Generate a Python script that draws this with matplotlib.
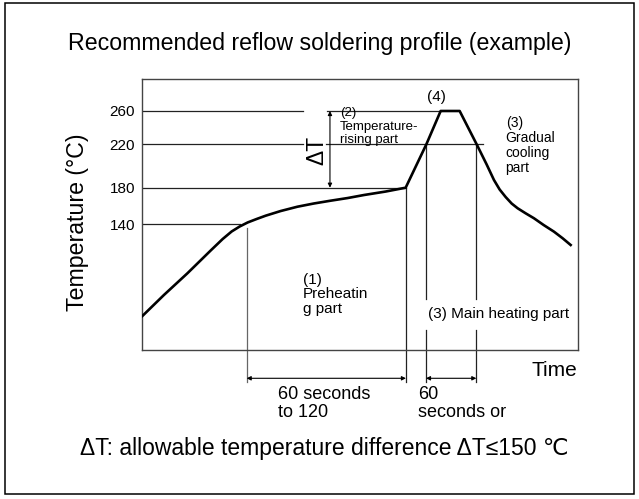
import numpy as np
import matplotlib
matplotlib.use("Agg")
import matplotlib.pyplot as plt
from matplotlib.patches import Rectangle
from matplotlib.transforms import blended_transform_factory

plt.rcParams['font.family'] = ['Liberation Sans', 'DejaVu Sans']

# ---- profile curve (time in arbitrary units, temperature in °C) ----
time_pts = [0.7, 22.3, 45.7, 69, 81, 90, 98, 106, 115, 124, 139, 155.7, 172, 189,
            206, 222.3, 244, 264,
            284.7, 299, 318,
            335, 345, 352.3, 358, 364, 370, 376, 384, 392.3, 402, 412.3, 421, 429]
temp_pts = [40.3, 63.2, 86.7, 111.5, 124, 132.2, 137.6, 142, 145.8, 149.4, 154.5, 159.2, 162.7, 165.8,
            168.7, 172, 175.8, 180,
            220, 260, 260,
            220, 201.4, 187.1, 178, 169.8, 162.7, 157.5, 152, 146.6, 139.2, 132, 124.8, 117.5]

tick_temps = [140, 180, 220, 260]
tick_labels = ['140', '180', '220', '260']

# horizontal guide lines: temperature, start time, end time
guide_temps = [260, 260, 220, 220, 180, 140]
guide_start = [0, 185.7, 0, 184, 0, 0]
guide_end = [161.7, 299, 161.7, 341, 264, 98.3]

# vertical marker lines: time, temperature where the line starts
marker_times = [105, 264.3, 284.3, 334.7]
marker_temps = [136, 180, 220, 220]
gap_temps = [58.8, 25.1]  # gap around "(3) Main heating part"

# ---- schematic (non linear) temperature axis ----
T_KNOTS = np.array([-300, 140, 180, 220, 260, 600])
H_KNOTS = np.array([125.7 - 440 * 0.92, 125.7, 162.3, 205.7, 239.0, 239.0 + 340 * 0.9])
AX_H = 271.0


def fwd(t):
    return np.interp(t, T_KNOTS, H_KNOTS)


def inv(h):
    return np.interp(h, H_KNOTS, T_KNOTS)


def yfrac(t):
    return float(fwd(t)) / AX_H


fig = plt.figure(figsize=(6.39, 4.99), dpi=100)
ax = fig.add_axes([0.2217, 0.2986, 0.6823, 0.5431])
ax.set_yscale('function', functions=(fwd, inv))
ax.set_xlim(0, 436)
ax.set_ylim(float(inv(0)), float(inv(AX_H)))

# curve
ax.plot(time_pts, temp_pts, color='black', lw=1.9, solid_joinstyle='round', zorder=4)

# guide lines
for t, x0, x1 in zip(guide_temps, guide_start, guide_end):
    ax.plot([x0, x1], [t, t], color='#222222', lw=0.9, zorder=2)

# vertical markers going below the axis
trans = blended_transform_factory(ax.transData, ax.transAxes)
y_low = -0.117
for i, (x, t) in enumerate(zip(marker_times, marker_temps)):
    if i >= 2:
        ax.plot([x, x], [yfrac(t), yfrac(gap_temps[0])], color='#222222', lw=0.9,
                transform=trans, clip_on=False)
        ax.plot([x, x], [yfrac(gap_temps[1]), y_low], color='#222222', lw=0.9,
                transform=trans, clip_on=False)
    else:
        col = '#666666' if i == 0 else '#222222'
        ax.plot([x, x], [yfrac(t), y_low], color=col, lw=0.9,
                transform=trans, clip_on=False)

# duration arrows
arrow_kw = dict(arrowstyle='<|-|>', mutation_scale=6, lw=0.8, color='black',
                shrinkA=0, shrinkB=0)
for x0, x1 in [(marker_times[0], marker_times[1]), (marker_times[2], marker_times[3])]:
    ax.annotate('', xy=(x1, -0.1044), xytext=(x0, -0.1044), xycoords=trans,
                textcoords=trans, arrowprops=arrow_kw, annotation_clip=False)

# delta T arrow
ax.annotate('', xy=(188.3, 180), xytext=(188.3, 260), arrowprops=arrow_kw)
ax.text(175.7, 214.7, 'ΔT', rotation=90, fontsize=16.5, ha='center', va='center')

# labels inside the plot
ax.text(295, 275, '(4)', fontsize=11, ha='center', va='center')
ax.text(198, 241, '(2)\nTemperature-\nrising part', fontsize=9.5, ha='left', va='center',
        linespacing=1.15)
ax.text(364, 218.6, '(3)\nGradual\ncooling\npart', fontsize=10, ha='left', va='center',
        linespacing=1.1)
ax.text(161, 64, '(1)\nPreheatin\ng part', fontsize=11, ha='left', va='center',
        linespacing=1.05)
ax.text(286.3, 42.5, '(3) Main heating part', fontsize=11, ha='left', va='center')

# labels below the axis
ax.text(136.3, -0.197, '60 seconds\nto 120', fontsize=13, ha='left', va='center',
        transform=trans, linespacing=1.1)
ax.text(276.3, -0.197, '60\nseconds or', fontsize=13, ha='left', va='center',
        transform=trans, linespacing=1.1)
ax.text(1.0, -0.074, 'Time', fontsize=15, ha='right', va='center', transform=ax.transAxes)

# axes styling
ax.set_xticks([])
ax.set_yticks(tick_temps)
ax.set_yticklabels(tick_labels, fontsize=11)
ax.tick_params(axis='y', length=0, pad=4.8)
ax.yaxis.set_minor_locator(plt.NullLocator())
for s in ax.spines.values():
    s.set_color('#444444')
    s.set_linewidth(1.0)
ax.set_ylabel('Temperature (°C)', fontsize=16.7)
ax.yaxis.set_label_coords(-0.121, 0.47)

# titles and frame
fig.text(0.5008, 1 - 50 / 499, 'Recommended reflow soldering profile (example)',
         fontsize=16.7, ha='center', va='baseline')
fig.text(0.507, 1 - 449 / 499, 'ΔT: allowable temperature difference ΔT≤150 ℃',
         fontsize=16.5, ha='center', va='center')
fig.patches.append(Rectangle((5 / 639, 1 - 494 / 499), 629 / 639, 490.7 / 499,
                             transform=fig.transFigure, fill=False,
                             edgecolor='black', lw=1.1))

fig.savefig('out.png', dpi=100)
